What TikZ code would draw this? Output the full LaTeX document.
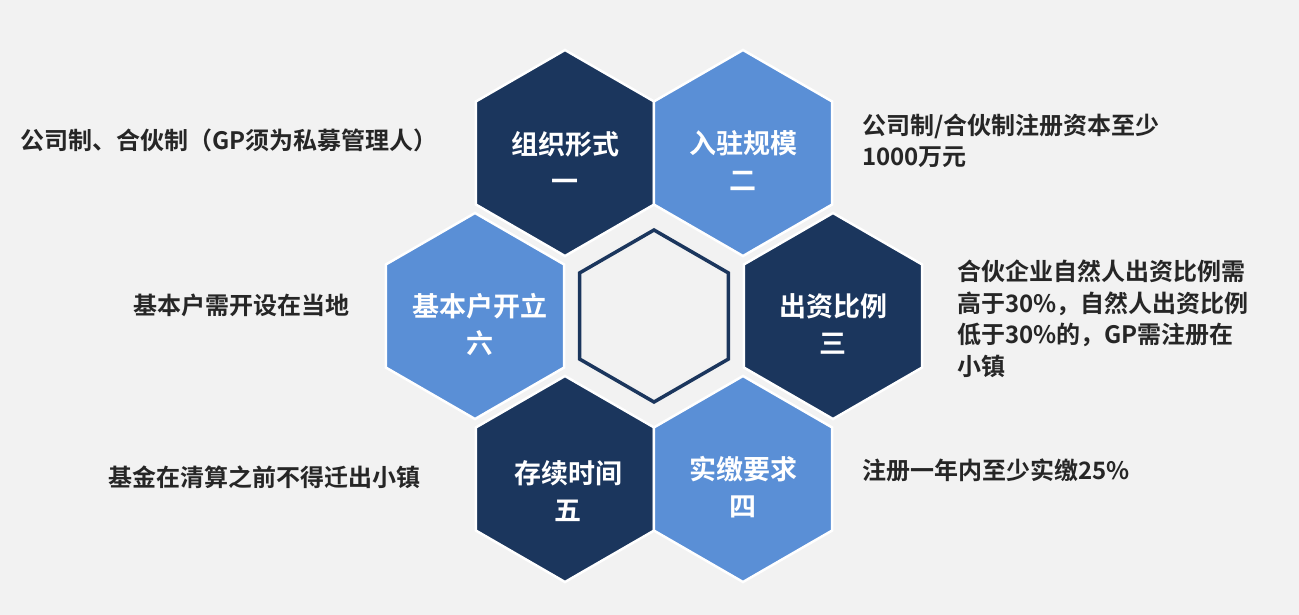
\documentclass[tikz,border=0pt]{standalone}
\usepackage{fontspec}
\setmainfont{Noto Sans CJK SC}[BoldFont={Noto Sans CJK SC Bold}]
\usetikzlibrary{shapes.geometric}
\definecolor{navy}{HTML}{1B365D}
\definecolor{lblue}{HTML}{5A8FD6}
\definecolor{bg}{HTML}{F2F2F2}
\definecolor{txt}{HTML}{262626}
\begin{document}
\begin{tikzpicture}[x=1pt,y=-1pt,
  hex/.style={regular polygon,regular polygon sides=6,shape border rotate=30,inner sep=0pt,minimum size=206pt,draw=white,line width=2.5pt},
  hexd/.style={hex,fill=navy},
  hexl/.style={hex,fill=lblue},
  htext/.style={text=white,font=\bfseries\fontsize{27}{37}\selectfont,align=center},
  side/.style={text=txt,font=\bfseries\fontsize{24}{31.5}\selectfont,align=left,inner sep=0pt}]
\fill[bg] (0,0) rectangle (1299,615);
\useasboundingbox (0,0) rectangle (1299,615);
\node[hexd] (h1) at (565,153) {};
\node[hexl] (h2) at (743,153) {};
\node[hexl] (h6) at (475,316) {};
\node[hexd] (h3) at (833,316) {};
\node[hexd] (h5) at (565,479) {};
\node[hexl] (h4) at (743,479) {};
\node[regular polygon,regular polygon sides=6,shape border rotate=30,inner sep=0pt,minimum size=172pt,draw=navy,line width=3.5pt,fill=bg] (hc) at (654,316) {};
\node[htext] (t1) at (565,161) {组织形式\\一};
\node[htext] (t2) at (743,161) {入驻规模\\二};
\node[htext] (t6) at (480,324) {基本户开立\\六};
\node[htext] (t3) at (833,324) {出资比例\\三};
\node[htext] (t5) at (568,491) {存续时间\\五};
\node[htext] (t4) at (743,487) {实缴要求\\四};
\node[side,anchor=west] (s1) at (20,140) {公司制、合伙制（GP须为私募管理人）};
\node[side,anchor=west] (s2) at (862,141) {公司制/合伙制注册资本至少\\1000万元};
\node[side,anchor=west] (s6) at (133,305) {基本户需开设在当地};
\node[side,anchor=west] (s3) at (957,319) {合伙企业自然人出资比例需\\高于30\%，自然人出资比例\\低于30\%的，GP需注册在\\小镇};
\node[side,anchor=west] (s5) at (108,477) {基金在清算之前不得迁出小镇};
\node[side,anchor=west] (s4) at (862,470) {注册一年内至少实缴25\%};
\end{tikzpicture}
\end{document}
